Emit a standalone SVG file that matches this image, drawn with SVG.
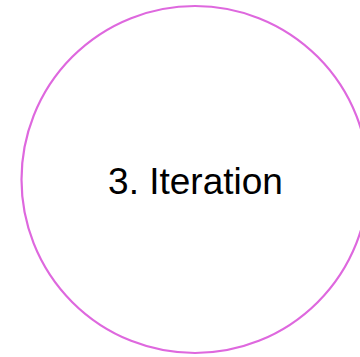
<svg xmlns="http://www.w3.org/2000/svg" width="360" height="357" viewBox="0 0 360 357">
<style>
.ring{fill:none;stroke:#DE68DE;stroke-width:2.2}
.lbl{font-family:"Liberation Sans",Arial,sans-serif;font-size:37px;fill:#000;text-anchor:middle}
</style>
<rect width="360" height="357" fill="#fff"/>
<g id="node-iteration">
<circle class="ring" cx="195" cy="179.5" r="173.5"/>
<text class="lbl" x="195.5" y="194">3. Iteration</text>
</g>
</svg>
